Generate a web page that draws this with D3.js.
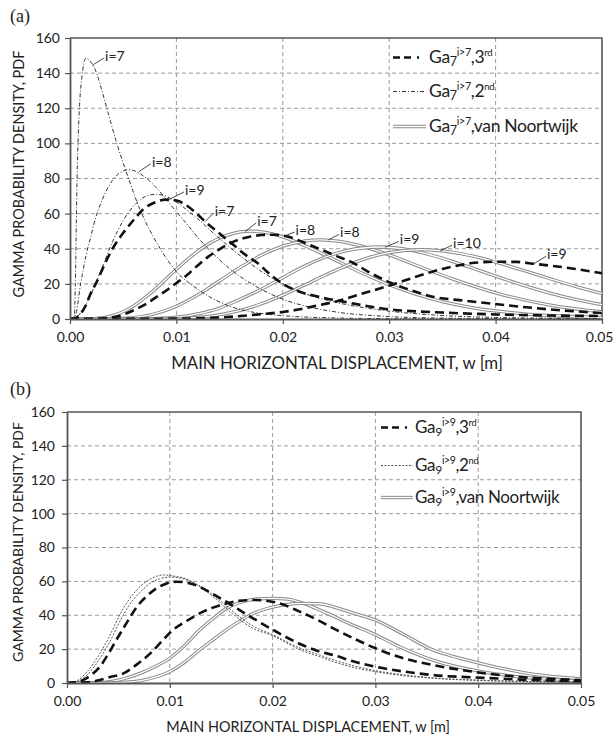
<!DOCTYPE html>
<html>
<head>
<meta charset="utf-8">
<script src="https://cdn.jsdelivr.net/npm/d3@7"></script>
<style>
  body { margin: 0; background: #fff; }
  svg { display: block; }
  text { font-family: Lato, "Open Sans", "DejaVu Sans", sans-serif; fill: #222; }
</style>
</head>
<body>
<svg id="chart" width="614" height="738"></svg>
<script>
// ---- axis ticks ----
const xTickValues = [0, 0.01, 0.02, 0.03, 0.04, 0.05];
const xTickLabels = ["0.00", "0.01", "0.02", "0.03", "0.04", "0.05"];
const yTickValues = [0, 20, 40, 60, 80, 100, 120, 140, 160];

const xTitle = "MAIN HORIZONTAL DISPLACEMENT, w [m]";
const yTitle = "GAMMA PROBABILITY DENSITY, PDF";

// ---- panel (a): Ga7, i>7 ; points are [w (m), pdf] ----
const a2nd_i7 = [[0,0],[0.0004,0.5],[0.0005,20],[0.00066,79],[0.0009,122],[0.0011,137],[0.0015,148.5],[0.002,146],[0.0025,140],[0.003,130],[0.0036,117],[0.0044,100],[0.0055,80],[0.0066,62],[0.008,45],[0.01,27],[0.012,17],[0.015,7.3],[0.02,1.9],[0.025,0.6],[0.03,0.2],[0.04,0.05],[0.05,0]];
const a2nd_i8 = [[0,0],[0.0005,2],[0.001,20],[0.0015,36],[0.002,48],[0.0022,53],[0.003,67.5],[0.004,79],[0.005,84.3],[0.0055,85],[0.006,84.5],[0.007,81],[0.008,75.5],[0.009,68.5],[0.01,61],[0.011,54],[0.012,46.5],[0.013,40],[0.015,28.7],[0.0175,18.5],[0.02,11.3],[0.0225,6.8],[0.025,4],[0.03,1.4],[0.035,0.5],[0.04,0.2],[0.05,0]];
const a2nd_i9 = [[0,0],[0.0005,0.5],[0.001,3.5],[0.002,14.5],[0.003,29],[0.004,44],[0.005,56],[0.006,64.5],[0.007,69.5],[0.008,71],[0.009,70],[0.01,66.5],[0.012,57],[0.014,46],[0.016,36],[0.018,27],[0.02,20],[0.0216,15.5],[0.025,9.5],[0.03,4.5],[0.035,2],[0.04,0.9],[0.05,0.2]];

const a3rd_i7 = [[0,0],[0.0005,0.5],[0.001,3],[0.0015,8],[0.0019,14],[0.0025,21],[0.0034,33],[0.004,40],[0.005,49],[0.006,56.5],[0.0069,62.5],[0.008,66.5],[0.009,68],[0.01,67.5],[0.011,64.5],[0.012,59.5],[0.0127,55.5],[0.014,49],[0.0152,43],[0.0165,36.5],[0.0179,30.5],[0.0185,27],[0.02,20],[0.0216,15.5],[0.0235,12.5],[0.026,9.5],[0.03,5.5],[0.035,3.7],[0.04,2.6],[0.045,2],[0.05,1.7]];
const a3rd_i8 = [[0,0],[0.002,0.1],[0.003,0.3],[0.004,1],[0.005,2.5],[0.006,5],[0.007,8],[0.008,12],[0.009,16],[0.01,20.5],[0.011,25],[0.012,30.5],[0.013,35.5],[0.014,39.5],[0.015,43],[0.016,45.5],[0.017,47],[0.018,47.8],[0.019,48],[0.02,47.5],[0.021,46],[0.0216,44.5],[0.023,41],[0.025,36],[0.0266,32],[0.028,27],[0.03,21],[0.032,16.5],[0.0341,12.7],[0.037,10.5],[0.04,8.5],[0.045,5.5],[0.05,3.4]];
const a3rd_i9 = [[0,0],[0.01,0.2],[0.0125,0.5],[0.015,1.2],[0.0175,2.5],[0.02,4],[0.0216,5.5],[0.0235,8],[0.025,10],[0.0275,14.5],[0.03,19],[0.031,21],[0.0325,24],[0.035,28.5],[0.0367,30.7],[0.038,32],[0.04,32.6],[0.042,32.5],[0.0435,31.5],[0.045,30.5],[0.0475,28.5],[0.05,26]];

const aVN_i7 = [[0,0],[0.002,0.1],[0.003,0.6],[0.004,1.9],[0.005,4.2],[0.006,7.5],[0.007,12],[0.008,17],[0.009,22.6],[0.01,28.3],[0.011,33.7],[0.012,38.5],[0.013,42.7],[0.014,45.9],[0.015,48.2],[0.016,49.6],[0.017,50],[0.018,49.6],[0.019,48.5],[0.02,46.8],[0.0225,40.6],[0.025,33.3],[0.0275,26],[0.03,19.5],[0.0325,14.1],[0.035,9.9],[0.0375,6.8],[0.04,4.6],[0.045,2],[0.05,0.8]];
const aVN_i8 = [[0,0],[0.004,0.1],[0.005,0.3],[0.008,3],[0.01,7.3],[0.012,13.7],[0.014,21.5],[0.016,29.4],[0.018,36.4],[0.02,41.5],[0.022,44.4],[0.0235,45],[0.026,43.5],[0.028,40.5],[0.03,36.5],[0.033,29.5],[0.036,22.7],[0.04,14.9],[0.045,8],[0.05,4]];
const aVN_i9 = [[0,0],[0.006,0.05],[0.008,0.26],[0.01,1],[0.012,2.9],[0.014,6.1],[0.016,11.3],[0.018,17],[0.02,23.6],[0.022,30],[0.024,35.3],[0.026,38.9],[0.029,41],[0.032,39.2],[0.034,36.3],[0.036,32.7],[0.038,28.6],[0.04,24.4],[0.0425,19.4],[0.045,14.9],[0.0475,11.2],[0.05,8.2]];
const aVN_i10 = [[0,0],[0.008,0.05],[0.01,0.27],[0.012,0.93],[0.014,2.4],[0.016,4.9],[0.018,8.7],[0.02,13.6],[0.022,19.2],[0.024,25],[0.026,30.4],[0.028,34.8],[0.03,37.8],[0.033,39.5],[0.036,38],[0.038,35.6],[0.04,32.4],[0.0425,27.9],[0.045,23.2],[0.0475,18.6],[0.05,14.6]];

// curve labels of panel (a): text corner [w, pdf] and the point the leader reaches
const aLabels  = ["i=7", "i=8", "i=9", "i=7", "i=7", "i=8", "i=8", "i=9", "i=10", "i=9"];
const aLabelAt = [[0.0033,146.9],[0.0077,86.7],[0.0108,70.6],[0.0136,58.7],[0.0176,53],[0.0212,47.8],[0.02538,46.5],[0.031,42.5],[0.036,40.3],[0.04483,34]];
const aLabelTo = [[0.0021,144.5],[0.0065,84],[0.0093,68],[0.0127,55.5],[0.01645,49.8],[0.0202,47.3],[0.02428,45],[0.0296,40.8],[0.0348,38.8],[0.04355,31.3]];

// ---- panel (b): Ga9, i>9 ----
const b2nd_1 = [[0,0],[0.0005,0.5],[0.001,1.5],[0.002,7],[0.0032,17.5],[0.004,26],[0.0052,41],[0.006,49],[0.0071,56.8],[0.008,61],[0.0094,63.8],[0.0105,63],[0.0116,61.5],[0.013,56.5],[0.0142,51],[0.0155,44],[0.0168,37.5],[0.018,32.5],[0.02,28],[0.0227,19.5],[0.0246,15.5],[0.0259,12.6],[0.028,9],[0.03,6.7],[0.0325,4.5],[0.0356,2.8],[0.04,1.5],[0.045,0.8],[0.05,0.4]];
const b2nd_2 = [[0,0],[0.001,1],[0.002,5],[0.0032,14.5],[0.004,22.5],[0.0052,37],[0.006,45.5],[0.0071,53.5],[0.008,58.5],[0.009,61.5],[0.01,62.5],[0.011,62],[0.012,60],[0.013,57],[0.0142,52],[0.0155,45.5],[0.0168,39],[0.018,34],[0.02,28.5],[0.0227,20.5],[0.0246,16.5],[0.026,13.5],[0.028,10],[0.03,7.3],[0.0325,5],[0.0356,3],[0.04,1.7],[0.045,0.9],[0.05,0.5]];
const b3rd_1 = [[0,0],[0.001,0.5],[0.0016,1.8],[0.0024,5],[0.0032,9.6],[0.004,17],[0.0048,25.4],[0.0058,35.5],[0.0068,45],[0.0078,51.5],[0.0087,55.9],[0.0097,58.8],[0.0107,59.8],[0.0118,59],[0.0129,56.8],[0.0142,52.5],[0.0155,48],[0.0168,43],[0.0181,38.2],[0.02,31.5],[0.0225,23.5],[0.0246,18.5],[0.0259,16.5],[0.028,12.5],[0.03,9.6],[0.0325,7],[0.0356,4.7],[0.0407,3],[0.045,1.8],[0.05,1]];
const b3rd_2 = [[0,0],[0.002,0.4],[0.0032,1.8],[0.0042,3.5],[0.0055,5.7],[0.0068,11],[0.0081,17.5],[0.0092,24.5],[0.0103,31.3],[0.0116,36.5],[0.0129,41.1],[0.0142,44.5],[0.0155,47],[0.0167,48.5],[0.0183,49],[0.0204,47.5],[0.0227,42],[0.0246,36.5],[0.0259,32.3],[0.028,26],[0.03,20.5],[0.0325,15],[0.0356,10.6],[0.0407,5.7],[0.045,3.2],[0.05,1.8]];
const bVN_1 = [[0,0],[0.003,0.2],[0.0042,0.8],[0.0055,2.5],[0.0071,5.7],[0.0085,9.5],[0.01,14.6],[0.0115,22.5],[0.0129,31.3],[0.0142,38],[0.0155,44],[0.0168,47.5],[0.0183,49.5],[0.02,50],[0.0215,49.5],[0.023,47],[0.025,42],[0.0275,35],[0.03,28.5],[0.0325,21],[0.0356,13.5],[0.0402,6.8],[0.045,3],[0.05,1.2]];
const bVN_2 = [[0,0],[0.004,0.1],[0.0065,0.8],[0.008,2.5],[0.01,6.7],[0.0115,12.5],[0.0129,19.5],[0.0142,25.5],[0.0155,31.3],[0.0168,36.5],[0.0181,41],[0.0195,44],[0.021,46],[0.0227,47],[0.0245,46.8],[0.0259,45],[0.028,41],[0.03,37.2],[0.0325,29.5],[0.0356,19.5],[0.038,15],[0.0402,11.6],[0.045,5.5],[0.05,2.4]];

// legend text pieces: [subscript, superscript, suffix, suffix superscript]
const legendA = [["7","i>7",",3","rd"],["7","i>7",",2","nd"],["7","i>7",",van Noortwijk",""]];
const legendB = [["9","i>9",",3","rd"],["9","i>9",",2","nd"],["9","i>9",",van Noortwijk",""]];
const legendKinds = ["3rd", "2nd", "vN"];

// ---- styles ----
const styles = {
  "3rd": { stroke: "#111", width: 2.6, dash: "9,5", legendDash: "7,4,7,6,2,20" },
  "2nd": { stroke: "#333", width: 1, dash: "4,2,1,2" },
  "2ndB": { stroke: "#555", width: 1, dash: "2,1.5" },
  "vN":  { stroke: "#888", width: 3.3, inner: 1.3 }
};

const svg = d3.select("#chart");

function drawSeries(g, data, kind, x, y) {
  const line = d3.line().x(d => x(d[0])).y(d => y(d[1])).curve(d3.curveMonotoneX);
  const st = styles[kind];
  if (kind === "vN") {
    g.append("path").attr("d", line(data)).attr("fill", "none")
      .attr("stroke", st.stroke).attr("stroke-width", st.width);
    g.append("path").attr("d", line(data)).attr("fill", "none")
      .attr("stroke", "#fff").attr("stroke-width", st.inner);
  } else {
    g.append("path").attr("d", line(data)).attr("fill", "none")
      .attr("stroke", st.stroke).attr("stroke-width", st.width)
      .attr("stroke-dasharray", st.dash);
  }
}

function fitFont(sel, base, target) {
  sel.attr("font-size", base);
  const w = sel.node().getComputedTextLength();
  sel.attr("font-size", base * target / w);
}

function drawPanel(cfg) {
  const x = d3.scaleLinear().domain([0, 0.05]).range([cfg.left, cfg.right]);
  const y = d3.scaleLinear().domain([0, 160]).range([cfg.bottom, cfg.top]);
  const g = svg.append("g");

  // grid
  g.append("g").selectAll("line").data(yTickValues.filter(v => v > 0 && v < 160)).join("line")
    .attr("x1", cfg.left).attr("x2", cfg.right).attr("y1", d => y(d)).attr("y2", d => y(d))
    .attr("stroke", "#999").attr("stroke-width", 1).attr("stroke-dasharray", "4,3");
  g.append("g").selectAll("line").data(xTickValues.filter(v => v > 0 && v < 0.05)).join("line")
    .attr("y1", cfg.top).attr("y2", cfg.bottom).attr("x1", d => x(d)).attr("x2", d => x(d))
    .attr("stroke", "#999").attr("stroke-width", 1).attr("stroke-dasharray", "4,3");

  // frame (top and right)
  g.append("path").attr("d", `M${cfg.left},${cfg.top}H${cfg.right}V${cfg.bottom}`)
    .attr("fill", "none").attr("stroke", "#555").attr("stroke-width", 1.6);

  // curves
  const clipId = "clip" + cfg.name;
  svg.append("clipPath").attr("id", clipId).append("rect")
    .attr("x", cfg.left).attr("y", cfg.top - 2).attr("width", cfg.right - cfg.left + 2).attr("height", cfg.bottom - cfg.top + 2);
  const cg = g.append("g").attr("clip-path", `url(#${clipId})`);
  cfg.series.forEach(s => drawSeries(cg, s.data, s.kind, x, y));

  // axes
  const ax = g.append("g").attr("transform", `translate(0,${cfg.bottom})`)
    .call(d3.axisBottom(x).tickValues(xTickValues).tickFormat((d, i) => xTickLabels[i])
      .tickSize(5).tickSizeOuter(0).tickPadding(cfg.xPad));
  const ay = g.append("g").attr("transform", `translate(${cfg.left},0)`)
    .call(d3.axisLeft(y).tickValues(yTickValues).tickFormat(d3.format("d"))
      .tickSize(5).tickSizeOuter(0).tickPadding(cfg.yPad));
  [ax, ay].forEach(a => {
    a.select(".domain").attr("stroke", "#555").attr("stroke-width", 1.8);
    a.selectAll(".tick line").attr("stroke", "#555").attr("stroke-width", 1.2);
    a.selectAll(".tick text").attr("font-size", 14).attr("font-family", "Lato, 'Open Sans', sans-serif").attr("fill", "#222");
  });
  // keep the last x label inside the page
  ax.selectAll(".tick text").filter(d => d === 0.05 && cfg.right > 596).attr("text-anchor", "end").attr("dx", 613 - cfg.right);

  // titles
  const xt = svg.append("text").attr("x", cfg.xTitleX).attr("y", cfg.xTitleY)
    .attr("text-anchor", "middle").text(xTitle);
  fitFont(xt, 14, cfg.xTitleW);
  const yt = svg.append("text").attr("transform", `translate(${cfg.yTitleX},${cfg.yTitleY}) rotate(-90)`)
    .attr("text-anchor", "middle").attr("dominant-baseline", "central").text(yTitle);
  fitFont(yt, 14, cfg.yTitleW);

  // panel tag
  svg.append("text").attr("x", cfg.tagX).attr("y", cfg.tagY)
    .attr("font-size", 18)
    .style("font-family", "'Liberation Serif', 'Times New Roman', serif").text(cfg.tag);

  // legend
  const lg = svg.append("g");
  const F = cfg.legF;
  cfg.legend.forEach((parts, i) => {
    const t = lg.append("text").attr("x", cfg.legX).attr("y", cfg.legY[i])
      .attr("font-size", F).attr("letter-spacing", -0.35).attr("fill", "#111");
    t.append("tspan").text("Ga");
    t.append("tspan").attr("font-size", 0.72 * F).attr("dy", 0.18 * F).text(parts[0]);
    t.append("tspan").attr("font-size", 0.62 * F).attr("dy", -0.58 * F).text(parts[1]);
    t.append("tspan").attr("dy", 0.4 * F).text(parts[2]);
    if (parts[3]) t.append("tspan").attr("font-size", 0.55 * F).attr("dy", -0.4 * F).text(parts[3]);
  });
  legendKinds.forEach((k, i) => {
    const ly = cfg.legY[i] - 5.5;
    const seg = [[0, 0], [1, 0]];
    const lx = d3.scaleLinear().range([cfg.legLineX0, cfg.legLineX1]);
    const st = styles[k === "2nd" && cfg.name === "b" ? "2ndB" : k];
    const p = d3.line().x(d => lx(d[0])).y(() => ly)(seg);
    if (k === "vN") {
      lg.append("path").attr("d", p).attr("stroke", st.stroke).attr("stroke-width", st.width).attr("fill", "none");
      lg.append("path").attr("d", p).attr("stroke", "#fff").attr("stroke-width", st.inner).attr("fill", "none");
    } else {
      lg.append("path").attr("d", p).attr("stroke", st.stroke).attr("stroke-width", st.width)
        .attr("stroke-dasharray", st.legendDash || st.dash).attr("fill", "none");
    }
  });

  // curve labels with leaders
  const ann = svg.append("g");
  (cfg.labels || []).forEach((lab, i) => {
    const tx = x(cfg.labelAt[i][0]), ty = y(cfg.labelAt[i][1]);
    ann.append("line").attr("x1", tx - 1).attr("y1", ty - 3)
      .attr("x2", x(cfg.labelTo[i][0])).attr("y2", y(cfg.labelTo[i][1]))
      .attr("stroke", "#333").attr("stroke-width", 0.9);
    ann.append("text").attr("x", tx).attr("y", ty).attr("font-size", 14).text(lab);
  });
}

drawPanel({
  name: "a", left: 70, right: 602, top: 38, bottom: 319,
  xPad: 8, yPad: 5,
  xTitleX: 337, xTitleY: 369, xTitleW: 332,
  yTitleX: 18, yTitleY: 174, yTitleW: 247,
  tag: "(a)", tagX: 10, tagY: 22,
  legend: legendA, legX: 429, legY: [63, 97, 132], legF: 17.5, legLineX0: 393, legLineX1: 426,
  series: [
    { data: aVN_i7, kind: "vN" }, { data: aVN_i8, kind: "vN" }, { data: aVN_i9, kind: "vN" }, { data: aVN_i10, kind: "vN" },
    { data: a2nd_i7, kind: "2nd" }, { data: a2nd_i8, kind: "2nd" }, { data: a2nd_i9, kind: "2nd" },
    { data: a3rd_i7, kind: "3rd" }, { data: a3rd_i8, kind: "3rd" }, { data: a3rd_i9, kind: "3rd" }
  ],
  labels: aLabels, labelAt: aLabelAt, labelTo: aLabelTo
});

drawPanel({
  name: "b", left: 67, right: 581, top: 412, bottom: 683,
  xPad: 8, yPad: 7,
  xTitleX: 308, xTitleY: 732, xTitleW: 284,
  yTitleX: 17, yTitleY: 542, yTitleW: 240,
  tag: "(b)", tagX: 10, tagY: 395,
  legend: legendB, legX: 415, legY: [433, 471, 503], legF: 17, legLineX0: 381, legLineX1: 413,
  series: [
    { data: bVN_1, kind: "vN" }, { data: bVN_2, kind: "vN" },
    { data: b2nd_1, kind: "2ndB" }, { data: b2nd_2, kind: "2ndB" },
    { data: b3rd_1, kind: "3rd" }, { data: b3rd_2, kind: "3rd" }
  ]
});
</script>
</body>
</html>
